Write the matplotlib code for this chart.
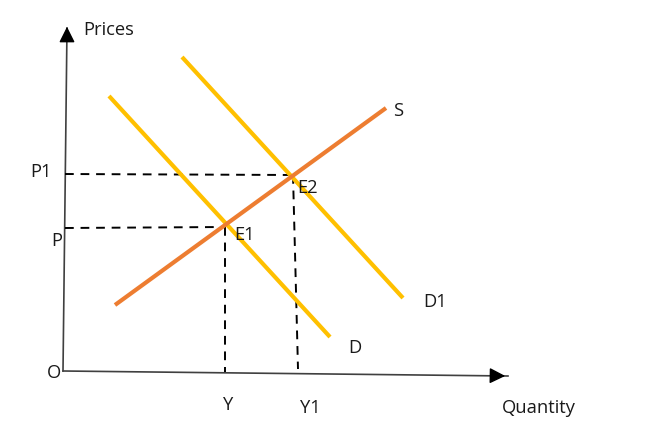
import matplotlib
matplotlib.use("Agg")
import matplotlib.pyplot as plt

# curve endpoints (x, y) in picture units, y grows downward
supply_x = [115, 386]
supply_y = [305, 108]
demand_x = [109, 330]
demand_y = [96, 337]
demand1_x = [182, 403]
demand1_y = [57, 298]

# equilibrium guide lines
e1_h_x = [65, 225]
e1_h_y = [228, 227]
e1_v_x = [225, 225]
e1_v_y = [227, 372]
e2_h_x = [65, 293]
e2_h_y = [174, 175]
e2_v_x = [293, 298]
e2_v_y = [175, 369]

# axes
yaxis_x = [63, 67]
yaxis_y = [371, 28]
xaxis_x = [63, 508]
xaxis_y = [371, 376]

labels = [
    ("Prices", 83, 30, "left"),
    ("P1", 41, 172, "center"),
    ("P", 57, 241, "center"),
    ("O", 54, 373, "center"),
    ("E1", 244, 235, "center"),
    ("E2", 308, 188, "center"),
    ("S", 398, 111, "center"),
    ("D1", 435, 302, "center"),
    ("D", 355, 348, "center"),
    ("Y", 228, 405, "center"),
    ("Y1", 310, 408, "center"),
    ("Quantity", 539, 408, "center"),
]

plt.rcParams['font.family'] = ['Open Sans', 'DejaVu Sans']

fig = plt.figure(figsize=(6.48, 4.48), dpi=100)
ax = fig.add_axes([0, 0, 1, 1])
ax.set_xlim(0, 648)
ax.set_ylim(448, 0)
ax.axis('off')

ax.plot(yaxis_x, yaxis_y, color='#404040', lw=1.2)
ax.plot(xaxis_x, xaxis_y, color='#404040', lw=1.2)
ax.annotate('', xy=(yaxis_x[1], 24), xytext=(yaxis_x[1], 42),
            arrowprops=dict(arrowstyle='-|>', color='black', lw=1.0,
                            mutation_scale=24))
ax.annotate('', xy=(xaxis_x[1], xaxis_y[1]), xytext=(492, 375.7),
            arrowprops=dict(arrowstyle='-|>', color='black', lw=1.0,
                            mutation_scale=24))

dash = dict(color='black', lw=1.4, dashes=(4.5, 3.5))
ax.plot(e1_h_x, e1_h_y, **dash)
ax.plot(e1_v_x, e1_v_y, **dash)
ax.plot(e2_h_x, e2_h_y, **dash)
ax.plot(e2_v_x, e2_v_y, **dash)

ax.plot(demand_x, demand_y, color='#FFC000', lw=3.0, solid_capstyle='butt')
ax.plot(demand1_x, demand1_y, color='#FFC000', lw=3.0, solid_capstyle='butt')
ax.plot(supply_x, supply_y, color='#ED7D31', lw=3.0, solid_capstyle='butt')

for txt, x, y, ha in labels:
    ax.text(x, y, txt, ha=ha, va='center', fontsize=13.2, color='#1a1a1a')

fig.savefig('out.png', dpi=100)
